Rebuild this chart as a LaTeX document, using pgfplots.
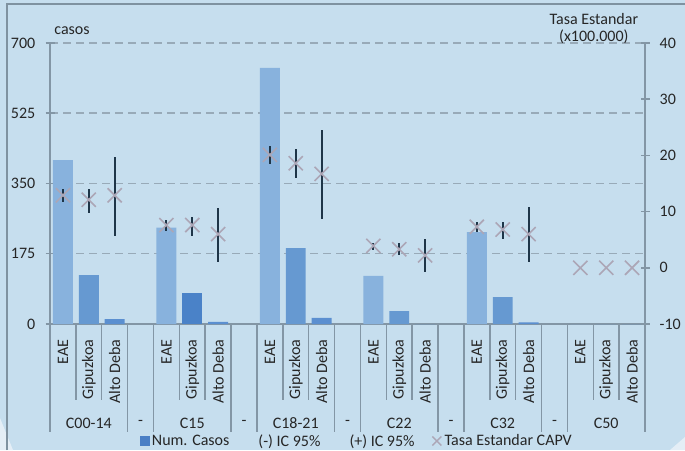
\documentclass[border=0pt]{standalone}
\usepackage{fontspec}
\setmainfont{Carlito}
\usepackage{pgfplots}
\usepackage{pgfplotstable}
\pgfplotsset{compat=1.18}

\definecolor{bgc}{RGB}{198,222,238}
\definecolor{cornerc}{RGB}{228,238,246}
\definecolor{framec}{RGB}{127,146,160}
\definecolor{axisc}{RGB}{131,150,165}
\definecolor{gridc}{RGB}{152,170,184}
\definecolor{textc}{RGB}{38,38,38}
\definecolor{eaec}{RGB}{136,178,221}
\definecolor{gipc}{RGB}{102,153,209}
\definecolor{gipdark}{RGB}{74,130,200}
\definecolor{adc}{RGB}{91,143,208}
\definecolor{legc}{RGB}{74,127,197}
\definecolor{crossc}{RGB}{172,166,182}
\definecolor{errc}{RGB}{30,53,72}

% tasa estandar con IC 95%
\pgfplotstableread{
x  y    ep   em
0  12.9 1.1  1.2
1  12.1 1.9  2.3
2  12.9 6.9  7.2
4  7.6  0.9  1.0
5  7.6  1.5  1.9
6  6.0  4.6  4.9
8  20.1 1.6  1.6
9  18.6 2.5  2.7
10 16.7 7.8  8.0
12 3.9  0.6  0.8
13 3.3  1.1  1.1
14 2.2  2.9  3.0
16 7.3  0.8  1.0
17 6.8  1.4  1.7
18 6.0  4.8  4.9
20 0    0    0
21 0    0    0
22 0    0    0
}\rates

\pgfplotsset{
  common/.style={
    at={(50pt,126pt)}, anchor=south west,
    scale only axis, width=595pt, height=281pt,
    xmin=-0.5, xmax=22.5, clip=false,
    axis line style={axisc,line width=1.5pt},
    ticklabel style={text=textc},
    tick style={axisc,line width=1.5pt},
    tick align=center, major tick length=9pt,
  },
}

\begin{document}
\begin{tikzpicture}[x=1pt,y=1pt,font=\fontsize{16}{19}\selectfont]
\path[use as bounding box] (0,0) rectangle (685,450);
\fill[bgc] (0,0) rectangle (685,450);
\fill[cornerc] (0,32) -- (0,0) -- (13,0) -- cycle;
\fill[cornerc] (685,13) -- (685,0) -- (670,0) -- cycle;
\draw[framec,line width=1.5pt] (7,0) -- (7,446) -- (685,446);

\begin{axis}[common,
  ymin=0, ymax=700,
  axis x line*=bottom, axis y line*=left,
  xtick={0,...,22},
  xticklabels={EAE,Gipuzkoa,Alto Deba,,EAE,Gipuzkoa,Alto Deba,,EAE,Gipuzkoa,Alto Deba,,EAE,Gipuzkoa,Alto Deba,,EAE,Gipuzkoa,Alto Deba,,EAE,Gipuzkoa,Alto Deba},
  xtick style={draw=none},
  xticklabel shift=11pt,
  xticklabel style={rotate=90,anchor=east,inner sep=0pt},
  ytick={0,175,350,525,700},
  yticklabels={0,175,350,525,700},
  yticklabel style={inner sep=0pt,xshift=-10pt},
  ymajorgrids,
  grid style={gridc,dashed,line width=1.5pt,dash pattern=on 8pt off 5pt},
  ylabel={casos},
  every axis y label/.style={at={(axis description cs:0.037,1.043)},anchor=center,text=textc},
]
\addplot[ybar,bar width=0.77,bar shift=0pt,fill=eaec,draw=none]
  coordinates {(0,408) (4,240) (8,638) (12,120) (16,229) (20,0)};
\addplot[ybar,bar width=0.77,bar shift=0pt,fill=gipc,draw=none]
  coordinates {(1,122) (9,189) (13,32) (17,67) (21,0)};
\addplot[ybar,bar width=0.77,bar shift=0pt,fill=gipdark,draw=none]
  coordinates {(5,76)};
\addplot[ybar,bar width=0.77,bar shift=0pt,fill=adc,draw=none]
  coordinates {(2,12) (6,5) (10,15) (14,0) (18,4) (22,0)};

% separadores del eje de categorias
\pgfplotsinvokeforeach{0.5,1.5,4.5,5.5,8.5,9.5,12.5,13.5,16.5,17.5,20.5,21.5}{
  \draw[axisc,line width=1.5pt] (axis cs:#1,0) -- ([yshift=-76pt]axis cs:#1,0);
}
\pgfplotsinvokeforeach{-0.5,2.5,3.5,6.5,7.5,10.5,11.5,14.5,15.5,18.5,19.5,22.5}{
  \draw[axisc,line width=1.5pt] (axis cs:#1,0) -- ([yshift=-108pt]axis cs:#1,0);
}
\node[text=textc,yshift=-99pt] at (axis cs:1,0) {C00-14};
\node[text=textc,yshift=-99pt] at (axis cs:3,0) {-};
\node[text=textc,yshift=-99pt] at (axis cs:5,0) {C15};
\node[text=textc,yshift=-99pt] at (axis cs:7,0) {-};
\node[text=textc,yshift=-99pt] at (axis cs:9,0) {C18-21};
\node[text=textc,yshift=-99pt] at (axis cs:11,0) {-};
\node[text=textc,yshift=-99pt] at (axis cs:13,0) {C22};
\node[text=textc,yshift=-99pt] at (axis cs:15,0) {-};
\node[text=textc,yshift=-99pt] at (axis cs:17,0) {C32};
\node[text=textc,yshift=-99pt] at (axis cs:19,0) {-};
\node[text=textc,yshift=-99pt] at (axis cs:21,0) {C50};
\end{axis}

\begin{axis}[common,
  ymin=-10, ymax=40,
  axis x line=none, axis y line*=right,
  ytick={-10,0,10,20,30,40},
  yticklabels={-10,0,10,20,30,40},
  yticklabel style={inner sep=0pt,xshift=10pt},
  ylabel={Tasa Estandar\\(x100.000)},
  every axis y label/.style={at={(axis description cs:0.914,1.0516)},anchor=center,align=center,
    text=textc,font=\fontsize{16}{17}\selectfont},
  legend columns=4,
  legend style={at={(axis description cs:0.1513,-0.4164)},anchor=west,draw=none,fill=none,
    inner sep=0pt,outer sep=0pt,column sep=0pt,nodes={inner sep=2.5pt,text=textc},
    /tikz/every even column/.append style={column sep=14.5pt}},
]
\addplot[only marks,mark=x,mark size=10pt,mark options={crossc,line width=1.6pt},forget plot]
  table[x=x,y=y] {\rates};
\addplot[draw=none,mark=none,forget plot,
  error bars/.cd,y dir=both,y explicit,error mark=none,
  error bar style={draw=errc,line width=2pt}]
  table[x=x,y=y,y error plus=ep,y error minus=em] {\rates};

\addlegendimage{legend image code/.code={\fill[legc] (0pt,-4.5pt) rectangle (9pt,4.5pt);}}
\addlegendentry{Num. Casos}
\addlegendimage{legend image code/.code={\path[draw=none,fill=none] (0pt,0pt) -- (9.5pt,0pt);}}
\addlegendentry{(-) IC 95\%}
\addlegendimage{legend image code/.code={\path[draw=none,fill=none] (0pt,0pt) -- (9.5pt,0pt);}}
\addlegendentry{(+) IC 95\%}
\addlegendimage{legend image code/.code={\draw[crossc,line width=1.5pt] (0pt,-4.5pt) -- (9pt,4.5pt) (0pt,4.5pt) -- (9pt,-4.5pt);}}
\addlegendentry{Tasa Estandar CAPV}
\end{axis}
\end{tikzpicture}
\end{document}
